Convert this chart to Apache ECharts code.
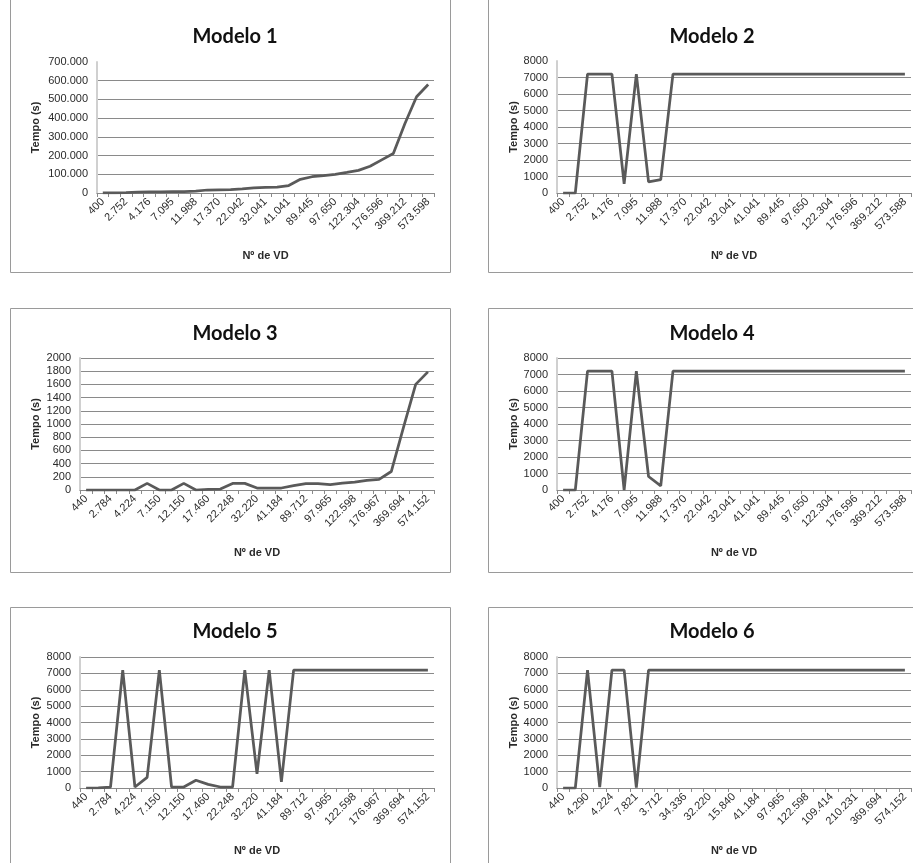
<!DOCTYPE html>
<html>
<head>
<meta charset="utf-8">
<script src="https://cdn.jsdelivr.net/npm/echarts@6/dist/echarts.min.js"></script>
<style>html,body{margin:0;padding:0;background:#fff;}#c{width:913px;height:863px;}</style>
</head>
<body>
<div id="c"></div>
<script>
// Category labels (odd positions are not printed in the reference)
const cats1 = ["400","1.224","2.752","3.360","4.176","5.586","7.095","9.102","11.988","14.460","17.370","19.608","22.042","27.120","32.041","36.450","41.041","65.210","89.445","93.540","97.650","110.004","122.304","148.720","176.596","270.110","369.212","471.380","573.598"];
const cats2 = ["400","1.224","2.752","3.360","4.176","5.586","7.095","9.102","11.988","14.460","17.370","19.608","22.042","27.120","32.041","36.450","41.041","65.210","89.445","93.540","97.650","110.004","122.304","148.720","176.596","270.110","369.212","471.380","573.588"];
const cats3 = ["440","1.236","2.784","3.396","4.224","5.640","7.150","9.180","12.150","14.610","17.460","19.812","22.248","27.300","32.220","36.720","41.184","65.430","89.712","93.800","97.965","110.230","122.598","149.110","176.967","270.540","369.694","471.900","574.152"];
const cats6 = ["440","2.310","4.290","3.396","4.224","5.640","7.821","5.180","3.712","18.610","34.336","33.120","32.220","24.300","15.840","28.720","41.184","70.430","97.965","110.230","122.598","115.110","109.414","160.540","210.231","290.900","369.694","471.900","574.152"];

// Series values (seconds)
const modelo1 = [500,1000,2000,5000,6000,6000,7000,8000,10000,16000,17000,18000,22000,27000,30000,32000,40000,73000,87000,93000,100000,110000,121000,143000,177000,211000,371000,514000,580000];
const modelo2 = [0,0,7200,7200,7200,560,7200,670,810,7200,7200,7200,7200,7200,7200,7200,7200,7200,7200,7200,7200,7200,7200,7200,7200,7200,7200,7200,7200];
const modelo3 = [0,0,0,0,0,100,0,0,100,0,10,15,100,100,30,30,30,65,95,95,80,105,120,145,160,280,950,1600,1790];
const modelo4 = [0,0,7200,7200,7200,0,7200,820,250,7200,7200,7200,7200,7200,7200,7200,7200,7200,7200,7200,7200,7200,7200,7200,7200,7200,7200,7200,7200];
const modelo5 = [0,10,60,7200,60,650,7200,60,60,470,220,60,60,7200,870,7200,380,7200,7200,7200,7200,7200,7200,7200,7200,7200,7200,7200,7200];
const modelo6 = [0,0,7200,50,7200,7200,20,7200,7200,7200,7200,7200,7200,7200,7200,7200,7200,7200,7200,7200,7200,7200,7200,7200,7200,7200,7200,7200,7200];

const titles = ["Modelo 1","Modelo 2","Modelo 3","Modelo 4","Modelo 5","Modelo 6"];
const yName = "Tempo (s)";
const xName = "Nº de VD";

const panels = [
  {cats: cats1, data: modelo1, max: 700000, interval: 100000, dot: true, grid: {left: 97, top: 62, width: 337, height: 131}, box: {x: 10, y: -5, w: 440, h: 277}, tx: 230, ty: 32, yGap: 56, showMax: false},
  {cats: cats2, data: modelo2, max: 8000, interval: 1000, grid: {left: 557, top: 61, width: 354, height: 132}, box: {x: 488, y: -5, w: 440, h: 277}, tx: 707, ty: 32, yGap: 38, showMax: false},
  {cats: cats3, data: modelo3, max: 2000, interval: 200, grid: {left: 80, top: 358, width: 354, height: 132}, box: {x: 10, y: 308, w: 440, h: 264}, tx: 230, ty: 329, yGap: 39, showMax: true},
  {cats: cats2, data: modelo4, max: 8000, interval: 1000, grid: {left: 557, top: 358, width: 354, height: 132}, box: {x: 488, y: 308, w: 440, h: 264}, tx: 707, ty: 329, yGap: 38, showMax: true},
  {cats: cats3, data: modelo5, max: 8000, interval: 1000, grid: {left: 80, top: 657, width: 354, height: 131}, box: {x: 10, y: 607, w: 440, h: 264}, tx: 230, ty: 627, yGap: 39, showMax: true},
  {cats: cats6, data: modelo6, max: 8000, interval: 1000, grid: {left: 557, top: 657, width: 354, height: 131}, box: {x: 488, y: 607, w: 440, h: 264}, tx: 707, ty: 627, yGap: 38, showMax: true}
];

const fmtDot = v => String(v).replace(/\B(?=(\d{3})+(?!\d))/g, '.');
const txtColor = '#2a2a2a';
const labelFont = {fontFamily: 'Liberation Sans', fontSize: 11, color: txtColor};

const option = {
  animation: false,
  backgroundColor: '#fff',
  title: panels.map((p, i) => ({
    text: titles[i], left: p.tx, top: p.ty, textAlign: 'center', textVerticalAlign: 'middle',
    textStyle: {fontFamily: 'Lato', fontWeight: 'bold', fontSize: 20, color: '#111'}
  })),
  graphic: panels.map(p => ({
    type: 'rect', shape: {x: p.box.x + 0.5, y: p.box.y + 0.5, width: p.box.w, height: p.box.h},
    style: {fill: 'none', stroke: '#9a9a9a', lineWidth: 1}, silent: true, z: -1
  })),
  grid: panels.map(p => Object.assign({containLabel: false}, p.grid)),
  xAxis: panels.map((p, i) => ({
    type: 'category', gridIndex: i, data: p.cats, boundaryGap: true,
    name: xName, nameLocation: 'middle', nameGap: 57,
    nameTextStyle: {fontFamily: 'Liberation Sans', fontWeight: 'bold', fontSize: 11, color: txtColor},
    axisLine: {show: true, lineStyle: {color: '#8a8a8a', width: 1}},
    axisTick: {show: true, interval: 0, length: 4, alignWithLabel: false, lineStyle: {color: '#8a8a8a'}},
    axisLabel: Object.assign({interval: 1, rotate: 45, margin: 7}, labelFont),
    splitLine: {show: false}
  })),
  yAxis: panels.map((p, i) => ({
    type: 'value', gridIndex: i, min: 0, max: p.max, interval: p.interval,
    name: yName, nameLocation: 'middle', nameGap: p.yGap,
    nameTextStyle: {fontFamily: 'Liberation Sans', fontWeight: 'bold', fontSize: 11, color: txtColor},
    axisLine: {show: true, lineStyle: {color: '#d0d0d0', width: 2}},
    axisTick: {show: false},
    axisLabel: Object.assign({margin: 9, formatter: p.dot ? fmtDot : (v => String(v))}, labelFont),
    splitLine: {show: true, showMinLine: false, showMaxLine: p.showMax, lineStyle: {color: '#8a8a8a', width: 1}}
  })),
  series: panels.map((p, i) => ({
    type: 'line', xAxisIndex: i, yAxisIndex: i, data: p.data,
    showSymbol: false, symbol: 'none', smooth: false,
    lineStyle: {color: '#5a5a5a', width: 2.75}
  }))
};

const chart = echarts.init(document.getElementById('c'), null, {renderer: 'canvas'});
chart.setOption(option);
</script>
</body>
</html>
